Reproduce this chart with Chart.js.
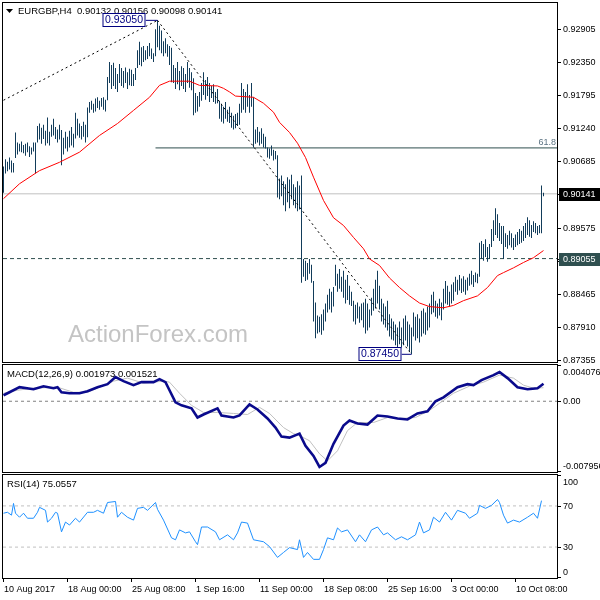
<!DOCTYPE html>
<html>
<head>
<meta charset="utf-8">
<script src="https://cdn.jsdelivr.net/npm/chart.js@4.4.0/dist/chart.umd.min.js"></script>
<style>
  body { margin: 0; background: #fff; }
  #wrap { position: relative; width: 600px; height: 600px; }
  canvas { position: absolute; left: 0; top: 0; }
</style>
</head>
<body>
<div id="wrap">
  <canvas id="main" width="600" height="600"></canvas>
  <canvas id="macd" width="600" height="600"></canvas>
  <canvas id="rsi" width="600" height="600"></canvas>
</div>
<script>
// EURGBP H4, 271 bars. Prices kept in pips (x 0.0001)
const highs = [
  9060,9072,9068,9075,9070,9066,9117,9100,9098,9102,
  9096,9098,9100,9094,9092,9100,9100,9128,9132,9125,
  9130,9120,9142,9118,9130,9140,9126,9122,9130,9121,
  9108,9118,9110,9120,9126,9115,9150,9140,9132,9128,
  9135,9130,9159,9168,9170,9165,9174,9176,9170,9175,
  9176,9172,9210,9235,9230,9234,9225,9215,9232,9225,
  9220,9226,9218,9224,9222,9215,9225,9255,9269,9260,
  9262,9255,9262,9267,9258,9250,9290,9305,9296,9288,
  9270,9275,9265,9262,9259,9230,9225,9235,9220,9228,
  9225,9215,9235,9225,9218,9208,9183,9178,9185,9200,
  9218,9205,9210,9200,9195,9198,9185,9190,9170,9165,
  9160,9168,9155,9160,9150,9145,9148,9150,9165,9200,
  9190,9185,9198,9180,9200,9176,9122,9126,9118,9124,
  9115,9110,9092,9090,9095,9088,9086,9079,9040,9045,
  9035,9030,9042,9038,9046,9030,9025,9035,9028,9045,
  8905,8902,8898,8905,8895,8868,8832,8810,8808,8812,
  8820,8830,8845,8855,8850,8858,8895,8880,8888,8875,
  8885,8870,8878,8860,8850,8835,8828,8832,8825,8830,
  8832,8838,8830,8820,8840,8855,8870,8885,8860,8838,
  8830,8825,8835,8812,8805,8800,8795,8790,8800,8790,
  8805,8810,8800,8795,8790,8815,8808,8812,8805,8818,
  8822,8815,8825,8830,8845,8850,8835,8830,8838,8832,
  8855,8868,8860,8850,8862,8866,8875,8870,8878,8872,
  8876,8870,8874,8880,8885,8878,8882,8880,8932,8935,
  8930,8938,8925,8930,8955,8970,8990,8980,8965,8960,
  8960,8948,8945,8952,8948,8940,8946,8950,8955,8952,
  8960,8965,8975,8970,8962,8968,8965,8960,8962,9028,
  9016
];
const lows = [
  9016,9048,9052,9055,9050,9050,9074,9080,9085,9084,
  9082,9078,9084,9076,9080,9085,9048,9100,9105,9098,
  9106,9095,9099,9095,9110,9112,9106,9100,9105,9062,
  9080,9090,9085,9092,9095,9092,9107,9112,9108,9105,
  9110,9100,9109,9150,9155,9150,9152,9158,9155,9160,
  9155,9152,9171,9200,9190,9195,9190,9185,9200,9195,
  9192,9200,9190,9196,9195,9195,9205,9225,9230,9228,
  9235,9238,9240,9245,9240,9235,9245,9260,9255,9250,
  9245,9250,9244,9230,9201,9200,9190,9198,9188,9195,
  9190,9185,9200,9192,9188,9146,9150,9152,9160,9170,
  9180,9172,9178,9168,9175,9168,9165,9166,9140,9135,
  9132,9140,9135,9133,9125,9122,9124,9128,9130,9150,
  9155,9150,9160,9150,9160,9092,9098,9100,9095,9098,
  9092,9090,9075,9073,9078,9070,9072,9008,9005,9010,
  8995,8985,9000,8990,9005,8995,8990,8985,8988,8865,
  8875,8868,8870,8880,8865,8800,8772,8780,8782,8778,
  8785,8800,8815,8820,8815,8825,8860,8850,8855,8850,
  8840,8830,8836,8828,8826,8800,8795,8805,8798,8802,
  8790,8780,8785,8790,8810,8818,8822,8830,8820,8800,
  8795,8790,8785,8775,8770,8768,8760,8755,8762,8755,
  8760,8768,8758,8750,8745,8775,8768,8772,8765,8775,
  8780,8778,8785,8790,8812,8815,8808,8805,8810,8802,
  8820,8830,8828,8825,8830,8835,8850,8845,8852,8848,
  8850,8845,8852,8860,8862,8858,8866,8864,8875,8905,
  8902,8908,8900,8905,8925,8935,8945,8940,8935,8930,
  8905,8925,8922,8928,8924,8920,8925,8928,8930,8932,
  8935,8940,8945,8942,8940,8950,8948,8945,8948,8948,
  9010
];

// moving average (red), read at bar positions, pips
const maX = [0, 8, 18, 28, 38, 48, 57, 65, 73, 78, 83, 93, 98, 107, 110, 113, 116, 125, 130, 135,
  138, 143, 147, 151, 155, 160, 165, 170, 175, 180, 183, 188, 193, 198, 203, 208, 213, 220, 225, 230,
  237, 242, 247, 250, 255, 260, 265, 270];
const maY = [9006, 9031, 9053, 9067, 9084, 9112, 9132, 9154, 9176, 9196, 9203, 9203, 9196, 9195, 9191, 9185, 9178, 9176, 9166, 9151,
  9134, 9117, 9099, 9075, 9042, 9003, 8974, 8961, 8941, 8922, 8905, 8894, 8873, 8857, 8843, 8831, 8825, 8823, 8827, 8835,
  8843, 8857, 8877, 8882, 8890, 8899, 8907, 8919];

// drawn objects on the price chart
const trendUpX = [0, 77], trendUpY = [9171, 9305];
const trendDownX = [77, 204], trendDownY = [9305, 8745];
const highTagX = [71, 77], highTag = 0.93050;
const lowTagX = [199, 204], lowTag = 0.87450;
const fibLevel = 0.90911, fibStart = 76;
const lastPrice = 0.90141;
const supportLevel = 0.89055;
const priceTicks = [0.92905, 0.92350, 0.91795, 0.91240, 0.90685, 0.90130, 0.89575, 0.89020, 0.88465, 0.87910, 0.87355];

// MACD(12,26,9), values x 0.0001
const macdX = [0, 3, 8, 15, 20, 25, 27, 29, 33, 38, 42, 47, 52, 56, 60, 65, 69, 75, 78, 81,
  83, 86, 89, 94, 97, 100, 107, 109, 115, 118, 123, 127, 132, 136, 139, 143, 148, 151, 155, 158,
  161, 165, 170, 173, 177, 182, 187, 192, 197, 202, 207, 212, 216, 220, 227, 232, 235, 239, 245, 248,
  252, 257, 262, 267, 270];
const macdY = [6.7, 10.1, 15.8, 13.5, 16.9, 14.7, 15.8, 10.1, 9.0, 9.0, 11.3, 15.8, 19.2, 27.1, 22.6, 18.1, 21.5, 21.5, 24.9, 21.5,
  12.4, -1.2, -4.6, -8.0, -18.3, -14.9, -8.0, -16.0, -18.3, -16.0, -3.5, -9.2, -19.4, -29.6, -39.8, -40.9, -36.4, -50.0, -61.4, -73.9,
  -69.3, -47.8, -27.3, -21.7, -25.1, -26.2, -16.0, -17.1, -19.4, -20.5, -13.7, -11.4, 0, 4.4, 15.8, 19.2, 18.1, 23.7, 29.4, 32.8,
  26.0, 15.8, 13.5, 14.7, 19.7];
const sigX = [0, 7, 15, 27, 35, 42, 48, 55, 62, 70, 80, 83, 88, 94, 100, 107, 115, 122, 128, 133,
  140, 145, 148, 153, 158, 162, 167, 172, 177, 185, 192, 198, 206, 213, 218, 225, 233, 240, 248, 255,
  260, 265, 270];
const sigY = [9.0, 12.4, 14.7, 15.8, 10.1, 10.1, 15.8, 22.6, 26.0, 20.3, 22.6, 21.5, 9.0, -4.6, -12.6, -12.6, -13.7, -14.9, -6.9, -13.7,
  -29.6, -36.4, -38.7, -44.4, -59.1, -67.1, -55.7, -33.0, -23.9, -23.9, -18.3, -19.4, -18.3, -10.3, -2.3, 9.0, 17.0, 21.5, 29.4, 26.0,
  18.1, 14.7, 15.2];
const macdMax = 0.004076, macdMin = -0.007956;

// RSI(14)
const rsiX = [0,2,4,5,6,8,10,12,15,17,
  18,21,22,24,26,27,29,31,33,36,
  38,42,45,47,50,52,56,57,59,62,
  65,67,70,72,76,77,80,84,86,88,
  91,93,96,97,99,102,106,108,112,115,
  117,119,122,125,130,133,137,140,143,147,
  148,150,152,155,158,160,162,165,167,169,
  172,176,178,181,184,187,190,192,196,199,
  202,206,208,210,213,215,218,221,224,227,
  231,233,237,238,241,244,247,248,250,252,
  255,258,262,265,267,269];
const rsiY = [62.9,63.8,61,72.4,62.9,59,62.9,58,58,63.8,
  68.6,65.7,54.3,58,63.8,62.9,44.8,54.3,51.4,58,
  54.3,63.8,63.8,65.7,62.9,73.3,74.3,59,63.8,59,
  56.2,67.6,68.6,65.7,73.3,66.7,56.2,39,37.1,46.7,
  43.8,44.8,35.2,32.4,49.5,49.5,44.8,37.1,41.9,37.1,
  43.8,54.3,53.3,37.1,35.2,30.5,20,24.8,29.5,27.6,
  37.1,20,24.8,18.1,18.1,27.6,39,37.1,48.6,44.8,
  46.7,35.2,41.9,35.2,46.7,49.5,41.9,43.8,37.1,40,
  37.1,41.9,54.3,43.8,46.7,59,54.3,63.8,56.2,65.7,
  62.9,58,62.9,70.5,67.6,70.5,76.2,73.3,61,53.3,
  56.2,54.3,59,62.9,58,75.1];
const rsiLevels = [70, 30];
const rsiTicks = [100, 70, 30, 0];

// time axis
const dateTicks = [0, 32, 64, 96, 128, 160, 192, 224, 256];
const dateLabels = ['10 Aug 2017', '18 Aug 00:00', '25 Aug 08:00', '1 Sep 16:00', '11 Sep 00:00',
  '18 Sep 08:00', '25 Sep 16:00', '3 Oct 00:00', '10 Oct 08:00'];

const mainTitle = 'EURGBP,H4  0.90132 0.90156 0.90098 0.90141';
const macdTitle = 'MACD(12,26,9) 0.001973 0.001521';
const rsiTitle = 'RSI(14) 75.0557';

const PIP = 1e4;
const X_MIN = -0.25, X_MAX = 276.75;
const FONT = '9px "Liberation Sans", Arial, sans-serif';
const TITLE_FONT = '9.5px "Liberation Sans", Arial, sans-serif';

function xAxis() {
  return { type: 'linear', min: X_MIN, max: X_MAX, display: false, offset: false };
}
function pts(xs, ys, k) {
  return xs.map((x, i) => ({ x: x, y: ys[i] / k }));
}
function flat(v, x0, x1) {
  return [{ x: x0, y: v }, { x: x1, y: v }];
}
function lineSet(data, color, width, dash, order) {
  return { type: 'line', data: data, borderColor: color, borderWidth: width, borderDash: dash || [],
    pointRadius: 0, tension: 0, fill: false, order: order };
}
function baseOptions(padTop, padBottom, yMin, yMax) {
  return {
    responsive: false, animation: false, devicePixelRatio: 1, events: [],
    layout: { padding: { left: 3, right: 43, top: padTop, bottom: padBottom } },
    scales: { x: xAxis(), y: { type: 'linear', min: yMin, max: yMax, display: false } },
    plugins: { legend: { display: false }, tooltip: { enabled: false } }
  };
}

function border(ctx, x, y, w, h) {
  ctx.strokeStyle = '#000';
  ctx.lineWidth = 1;
  ctx.setLineDash([]);
  ctx.strokeRect(x, y, w, h);
}
function rightLabel(ctx, text, tickY, textY, bg) {
  ctx.fillStyle = '#000';
  ctx.fillRect(558, Math.round(tickY), 3, 1);
  if (bg) {
    ctx.fillStyle = bg;
    ctx.fillRect(559, Math.round(textY) - 6, 41, 13);
    ctx.fillStyle = '#fff';
  }
  ctx.font = FONT;
  ctx.textAlign = 'left';
  ctx.textBaseline = 'middle';
  ctx.fillText(text, 563, textY + 0.5);
}
function priceTag(ctx, text, xr, yc) {
  const w = 43, h = 14, top = Math.round(yc - 7);
  ctx.fillStyle = '#fff';
  ctx.fillRect(xr - w, top, w, h);
  ctx.strokeStyle = '#000080';
  ctx.lineWidth = 1;
  ctx.strokeRect(xr - w + 0.5, top + 0.5, w - 1, h - 1);
  ctx.fillStyle = '#000080';
  ctx.font = '10.5px "Liberation Sans", Arial, sans-serif';
  ctx.textAlign = 'center';
  ctx.textBaseline = 'middle';
  ctx.fillText(text, xr - w / 2, top + h / 2 + 0.5);
}

const mainDecor = {
  id: 'mainDecor',
  beforeDatasetsDraw(chart) {
    const ctx = chart.ctx;
    ctx.save();
    ctx.font = '24px "Liberation Sans", Arial, sans-serif';
    ctx.fillStyle = '#c4c4c4';
    ctx.textBaseline = 'alphabetic';
    ctx.fillText('ActionForex.com', 68, 342);
    ctx.restore();
  },
  afterDraw(chart) {
    const ctx = chart.ctx, sx = chart.scales.x, sy = chart.scales.y;
    ctx.save();
    border(ctx, 2.5, 2.5, 555, 360);

    // title with the little drop-down arrow
    ctx.fillStyle = '#000';
    ctx.beginPath();
    ctx.moveTo(6, 9); ctx.lineTo(13, 9); ctx.lineTo(9.5, 13); ctx.closePath();
    ctx.fill();
    ctx.font = TITLE_FONT;
    ctx.textBaseline = 'middle';
    ctx.fillText(mainTitle, 18, 11.5);

    priceTicks.forEach(v => {
      const py = sy.getPixelForValue(v);
      rightLabel(ctx, v.toFixed(5), py, py);
    });
    const yl = sy.getPixelForValue(lastPrice);
    rightLabel(ctx, lastPrice.toFixed(5), yl, yl, '#000');
    const ys = sy.getPixelForValue(supportLevel);
    rightLabel(ctx, supportLevel.toFixed(5), ys, ys, '#2f4f4f');

    // fibo level caption
    ctx.fillStyle = '#5a7282';
    ctx.font = FONT;
    ctx.textAlign = 'right';
    ctx.textBaseline = 'alphabetic';
    ctx.fillText('61.8', 556, sy.getPixelForValue(fibLevel) - 3);

    priceTag(ctx, highTag.toFixed(5), sx.getPixelForValue(highTagX[0]), sy.getPixelForValue(highTag));
    priceTag(ctx, lowTag.toFixed(5), sx.getPixelForValue(lowTagX[0]), sy.getPixelForValue(lowTag));
    ctx.restore();
  }
};

const barData = highs.map((h, i) => ({ x: i, y: [lows[i] / PIP, h / PIP] }));

new Chart(document.getElementById('main'), {
  type: 'bar',
  data: {
    datasets: [
      lineSet(flat(lastPrice, X_MIN, X_MAX), '#c0c0c0', 1, null, 9),
      lineSet(flat(supportLevel, X_MIN, X_MAX), '#2f4f4f', 1, [4, 3], 8),
      lineSet(flat(fibLevel, fibStart, X_MAX), '#2f4f4f', 1, null, 7),
      { type: 'bar', data: barData, backgroundColor: '#123c5a', barThickness: 1,
        inflateAmount: 0, borderWidth: 0, grouped: false, order: 5 },
      lineSet(pts(maX, maY, PIP), '#ff0000', 1, null, 3),
      lineSet(pts(trendUpX, trendUpY, PIP), '#000', 1, [2, 3], 2),
      lineSet(pts(trendDownX, trendDownY, PIP), '#000', 1, [2, 3], 2),
      lineSet(flat(highTag, highTagX[0], highTagX[1]), '#000080', 1, null, 1),
      lineSet(flat(lowTag, lowTagX[0], lowTagX[1]), '#000080', 1, null, 1)
    ]
  },
  options: baseOptions(3, 238, 0.87321, 0.93341),
  plugins: [mainDecor]
});

const macdDecor = {
  id: 'macdDecor',
  afterDraw(chart) {
    const ctx = chart.ctx, sy = chart.scales.y;
    ctx.save();
    border(ctx, 2.5, 364.5, 555, 108);
    ctx.fillStyle = '#000';
    ctx.font = TITLE_FONT;
    ctx.textBaseline = 'middle';
    ctx.fillText(macdTitle, 7, 374.5);
    const top = sy.getPixelForValue(macdMax), bot = sy.getPixelForValue(macdMin), zero = sy.getPixelForValue(0);
    rightLabel(ctx, macdMax.toFixed(6), top, top + 7);
    rightLabel(ctx, '0.00', zero, zero);
    rightLabel(ctx, macdMin.toFixed(6), bot - 1, bot - 6);
    ctx.restore();
  }
};

new Chart(document.getElementById('macd'), {
  type: 'line',
  data: {
    datasets: [
      lineSet(flat(0, X_MIN, X_MAX), '#808080', 1, [3, 3], 3),
      lineSet(pts(sigX, sigY, PIP), '#c0c0c0', 1, null, 2),
      lineSet(pts(macdX, macdY, PIP), '#0a0a8c', 2.6, null, 1)
    ]
  },
  options: baseOptions(365, 128, macdMin, macdMax),
  plugins: [macdDecor]
});

const rsiDecor = {
  id: 'rsiDecor',
  afterDraw(chart) {
    const ctx = chart.ctx, sx = chart.scales.x, sy = chart.scales.y;
    ctx.save();
    border(ctx, 2.5, 474.5, 555, 104);
    ctx.fillStyle = '#000';
    ctx.font = TITLE_FONT;
    ctx.textBaseline = 'middle';
    ctx.fillText(rsiTitle, 7, 484.5);
    rsiTicks.forEach(v => {
      const py = sy.getPixelForValue(v);
      let ty = py;
      if (v === 100) ty = py + 7;
      if (v === 0) ty = py - 6;
      rightLabel(ctx, String(v), Math.min(py, 577), ty);
    });
    // time axis
    dateTicks.forEach((t, k) => {
      const px = Math.floor(sx.getPixelForValue(t));
      ctx.fillStyle = '#000';
      ctx.fillRect(px, 579, 1, 3);
      ctx.font = FONT;
      ctx.textAlign = 'left';
      ctx.textBaseline = 'alphabetic';
      ctx.fillText(dateLabels[k], px + 1, 592);
    });
    ctx.restore();
  }
};

new Chart(document.getElementById('rsi'), {
  type: 'line',
  data: {
    datasets: [
      lineSet(flat(rsiLevels[0], X_MIN, X_MAX), '#c0c0c0', 1, [3, 3], 3),
      lineSet(flat(rsiLevels[1], X_MIN, X_MAX), '#c0c0c0', 1, [3, 3], 3),
      lineSet(pts(rsiX, rsiY, 1), '#1e90ff', 1, null, 1)
    ]
  },
  options: baseOptions(475, 22, 0, 100),
  plugins: [rsiDecor]
});
</script>
</body>
</html>
